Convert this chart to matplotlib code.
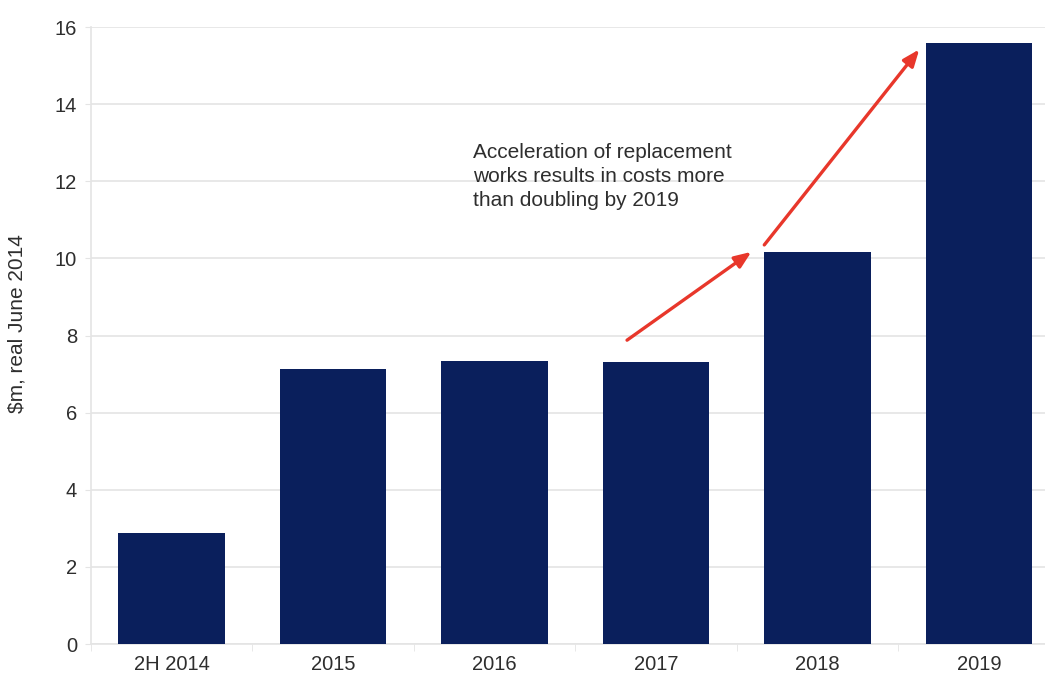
import matplotlib
matplotlib.use("Agg")
import matplotlib.pyplot as plt
import numpy as np

# annual replacement costs, $m real June 2014
categories = ["2H 2014", "2015", "2016", "2017", "2018", "2019"]
costs = [2.88, 7.13, 7.34, 7.31, 10.17, 15.59]

note = "Acceleration of replacement\nworks results in costs more\nthan doubling by 2019"

BAR_COLOR = "#0a1f5c"
ARROW_COLOR = "#e8372b"
TEXT_COLOR = "#2e2e2e"
GRID_COLOR = "#e4e4e4"

plt.rcParams["font.family"] = ["Liberation Sans", "DejaVu Sans"]


def main():
    fig = plt.figure(figsize=(10.45, 6.78), dpi=100)
    # right edge of the axes runs past the canvas, as in the source layout
    ax = fig.add_axes([0.0871, 0.0501, 0.927, 0.910])

    x = np.arange(len(categories))
    ax.bar(x, costs, width=0.66, color=BAR_COLOR, zorder=3)

    ax.set_xlim(-0.5, len(categories) - 0.5)
    ax.set_ylim(0, 16)
    ax.set_yticks(np.arange(0, 17, 2))
    ax.set_xticks(x)
    ax.set_xticklabels(categories)
    ax.set_xticks(np.arange(-0.5, len(categories), 1.0), minor=True)

    ax.grid(axis="y", color=GRID_COLOR, linewidth=1.2, zorder=0)
    for side in ("top", "right"):
        ax.spines[side].set_visible(False)
    for side in ("left", "bottom"):
        ax.spines[side].set_color(GRID_COLOR)
        ax.spines[side].set_linewidth(1.2)

    ax.tick_params(axis="y", length=4, color=GRID_COLOR, labelsize=14.5,
                   labelcolor=TEXT_COLOR, pad=6)
    ax.tick_params(axis="x", which="major", length=0, labelsize=14.5,
                   labelcolor=TEXT_COLOR, pad=8)
    ax.tick_params(axis="x", which="minor", length=5, color=GRID_COLOR)

    ax.set_ylabel("$m, real June 2014", fontsize=15, color=TEXT_COLOR, labelpad=20)
    ax.yaxis.label.set_y(0.52)

    ax.text(1.864, 13.0, note, fontsize=15, color=TEXT_COLOR, va="top", ha="left",
            linespacing=1.34)

    arrow_style = dict(arrowstyle="-|>,head_length=1.0,head_width=0.4",
                       color=ARROW_COLOR, lw=2.4, shrinkA=0, shrinkB=0)
    ax.annotate("", xy=(3.59, 10.17), xytext=(2.82, 7.88), arrowprops=arrow_style)
    ax.annotate("", xy=(4.63, 15.42), xytext=(3.67, 10.35), arrowprops=arrow_style)

    fig.savefig("out.png", dpi=100)


if __name__ == '__main__':
    main()
